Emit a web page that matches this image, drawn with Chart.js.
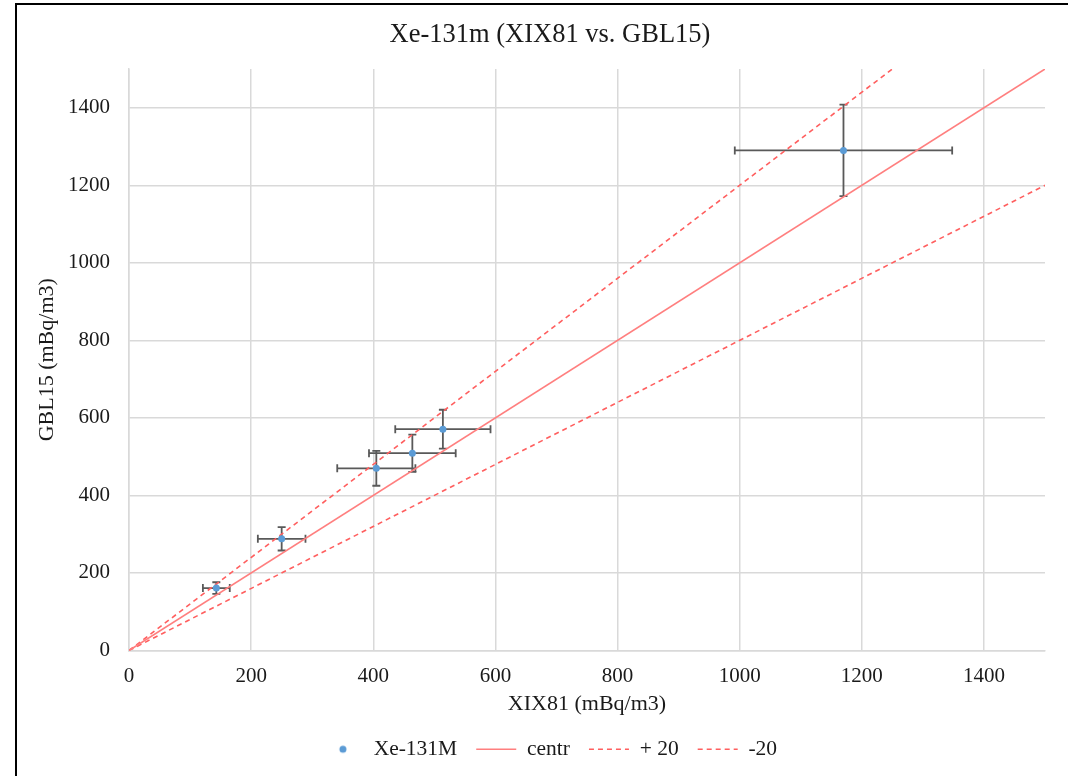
<!DOCTYPE html>
<html>
<head>
<meta charset="utf-8">
<script src="https://cdn.jsdelivr.net/npm/chart.js@4/dist/chart.umd.min.js"></script>
<style>
  html,body{ margin:0; padding:0; background:#fff; }
  #wrap{ position:relative; width:1068px; height:776px; }
  #frame{ position:absolute; left:15px; top:3px; right:-2px; bottom:-2px; border-left:2px solid #000; border-top:2px solid #000; pointer-events:none; }
</style>
</head>
<body>
<div id="wrap">
  <canvas id="c" width="1068" height="776"></canvas>
  <div id="frame"></div>
</div>
<script>
// ── data ───────────────────────────────────────────────────────────────────
const xVals  = [143, 250, 405, 464, 514, 1170];
const yVals  = [161, 288, 470, 509, 571, 1290];
const xErr   = [22, 39, 64, 71, 78, 178];
const yErr   = [15, 30, 45, 48, 50, 118];

const centrX = [0, 1500], centrY = [0, 1500];
const plusX  = [0, 1250], plusY  = [0, 1500];
const minusX = [0, 1500], minusY = [0, 1200];

const C = { dot:"#5B9BD5", solid:"#FF7F7F", dash:"#FF5F5F", err:"#595959",
            grid:"#D9D9D9", ink:"#1a1a1a" };
const FONT = "'Liberation Serif', 'Times New Roman', serif";

const pts = (xs, ys) => xs.map((x,i)=>({ x, y:ys[i] }));

// small round marker for the legend
const dotImg = document.createElement("canvas");
dotImg.width = 10; dotImg.height = 10;
{ const g = dotImg.getContext("2d"); g.fillStyle = C.dot; g.beginPath(); g.arc(5,5,3.5,0,Math.PI*2); g.fill(); }

// error bars, positioned through the chart's own scales
const errorBars = {
  id:"errorBars",
  beforeDatasetsDraw(chart){
    const { ctx, scales:{ x, y } } = chart;
    const cap = 4;
    ctx.save();
    ctx.strokeStyle = C.err; ctx.lineWidth = 1.8;
    xVals.forEach((xv,i)=>{
      const px = x.getPixelForValue(xv), py = y.getPixelForValue(yVals[i]);
      const x0 = x.getPixelForValue(xv - xErr[i]), x1 = x.getPixelForValue(xv + xErr[i]);
      const y0 = y.getPixelForValue(yVals[i] - yErr[i]), y1 = y.getPixelForValue(yVals[i] + yErr[i]);
      ctx.beginPath();
      ctx.moveTo(x0, py); ctx.lineTo(x1, py);
      ctx.moveTo(x0, py-cap); ctx.lineTo(x0, py+cap);
      ctx.moveTo(x1, py-cap); ctx.lineTo(x1, py+cap);
      ctx.moveTo(px, y0); ctx.lineTo(px, y1);
      ctx.moveTo(px-cap, y0); ctx.lineTo(px+cap, y0);
      ctx.moveTo(px-cap, y1); ctx.lineTo(px+cap, y1);
      ctx.stroke();
    });
    ctx.restore();
  }
};

const lineSet = (label, xs, ys, color, dash) => ({
  type:"line", label, data:pts(xs, ys), borderColor:color, backgroundColor:color,
  borderWidth:1.6, borderDash:dash, pointRadius:0, pointHoverRadius:0, pointStyle:"line", tension:0
});

const tickFmt = v => String(v);

new Chart(document.getElementById("c"), {
  type:"scatter",
  data:{ datasets:[
    { label:"Xe-131M", data:pts(xVals, yVals), backgroundColor:C.dot, borderColor:C.dot,
      pointRadius:3.5, pointBorderWidth:0 },
    lineSet("centr", centrX, centrY, C.solid, []),
    lineSet("+ 20", plusX, plusY, C.dash, [5,4]),
    lineSet("-20", minusX, minusY, C.dash, [5,4]),
  ]},
  options:{
    responsive:false, animation:false,
    // left padding centres title + legend where the original frame puts them
    layout:{ padding:{ left:55, right:23, top:0, bottom:6 } },
    plugins:{
      title:{ display:true, text:"Xe-131m (XIX81 vs. GBL15)", color:C.ink,
        font:{ family:FONT, size:26.5, weight:"normal" }, padding:{ top:19.3, bottom:17.9 } },
      legend:{ position:"bottom",
        labels:{ usePointStyle:true, pointStyleWidth:40, boxHeight:21, padding:19, color:C.ink,
          font:{ family:FONT, size:21.5 },
          generateLabels(chart){
            const items = Chart.defaults.plugins.legend.labels.generateLabels(chart);
            items.forEach((it,i)=>{
              const ds = chart.data.datasets[i];
              if(i===0){ it.pointStyle = dotImg; return; }
              it.pointStyle = "line";
              it.strokeStyle = ds.borderColor;
              it.lineWidth = ds.borderWidth;
              it.lineDash = ds.borderDash;
            });
            return items;
          } } },
      tooltip:{ enabled:false },
    },
    scales:{
      x:{ type:"linear", min:0, max:1500,
        ticks:{ stepSize:200, includeBounds:false, color:C.ink, padding:13, callback:tickFmt, font:{ family:FONT, size:21 } },
        grid:{ color:C.grid, lineWidth:1.5, drawTicks:false },
        border:{ color:C.grid, width:1.5 },
        title:{ display:true, text:"XIX81 (mBq/m3)", color:C.ink, font:{ family:FONT, size:22 }, padding:{ top:0, bottom:2 } },
        afterFit(s){ s.height = 69; } },
      y:{ type:"linear", min:0, max:1500,
        ticks:{ stepSize:200, includeBounds:false, color:C.ink, padding:19, callback:tickFmt, font:{ family:FONT, size:21 } },
        grid:{ color:C.grid, lineWidth:1.5, drawTicks:false },
        border:{ color:C.grid, width:1.5 },
        title:{ display:true, text:"GBL15 (mBq/m3)", color:C.ink, font:{ family:FONT, size:22 }, padding:{ top:-21, bottom:0 } },
        afterFit(s){ s.width = 74; } },
    },
  },
  plugins:[errorBars],
});
</script>
</body>
</html>
